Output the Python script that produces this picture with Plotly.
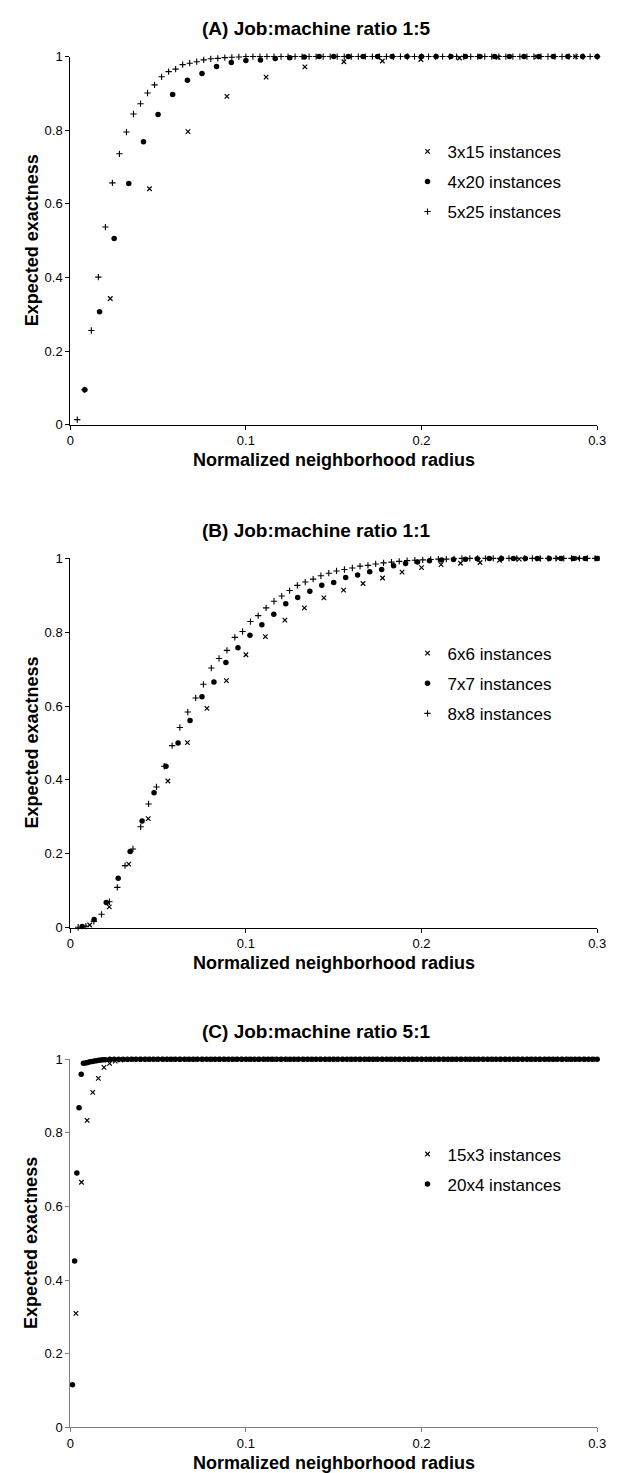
import plotly.graph_objects as go

# ---------------- data ----------------
x_ticks = [0, 0.1, 0.2, 0.3]
x_tick_text = ["0", "0.1", "0.2", "0.3"]
y_ticks = [0, 0.2, 0.4, 0.6, 0.8, 1.0]
y_tick_text = ["0", "0.2", "0.4", "0.6", "0.8", "1"]

titles = ["(A) Job:machine ratio 1:5", "(B) Job:machine ratio 1:1", "(C) Job:machine ratio 5:1"]
x_title = "Normalized neighborhood radius"
y_title = "Expected exactness"

# Panel A
a_3x15_x = [0.0228, 0.0451, 0.0670, 0.0892, 0.1115, 0.1336, 0.1558, 0.1777, 0.1996, 0.2216,
            0.2436, 0.2656, 0.2876]
a_3x15_y = [0.343, 0.641, 0.796, 0.892, 0.944, 0.972, 0.986, 0.988, 0.992, 0.996,
            0.998, 0.999, 1.0]

a_4x20_x = [0.0083, 0.0167, 0.025, 0.0333, 0.0417, 0.05, 0.0583, 0.0667, 0.075, 0.0833,
            0.0917, 0.1, 0.1083, 0.1167, 0.125, 0.1333, 0.1417, 0.15, 0.1583, 0.1667,
            0.175, 0.1833, 0.1917, 0.2, 0.2083, 0.2167, 0.225, 0.2333, 0.2417, 0.25,
            0.2583, 0.2667, 0.275, 0.2833, 0.2917, 0.3]
a_4x20_y = [0.095, 0.307, 0.506, 0.655, 0.769, 0.843, 0.897, 0.936, 0.954, 0.973,
            0.984, 0.989, 0.991, 0.995, 0.997, 0.999, 1.0, 1.0, 1.0, 1.0,
            1.0, 1.0, 1.0, 1.0, 1.0, 1.0, 1.0, 1.0, 1.0, 1.0,
            1.0, 1.0, 1.0, 1.0, 1.0, 1.0]

a_5x25_x = [0.004, 0.008, 0.012, 0.016, 0.02, 0.024, 0.028, 0.032, 0.036, 0.04,
            0.044, 0.048, 0.052, 0.056, 0.06, 0.064, 0.068, 0.072, 0.076, 0.08,
            0.084, 0.088, 0.092, 0.096, 0.1, 0.104, 0.108, 0.112, 0.116, 0.12,
            0.124, 0.128, 0.132, 0.136, 0.14, 0.144, 0.148, 0.152, 0.156, 0.16,
            0.164, 0.168, 0.172, 0.176, 0.18, 0.184, 0.188, 0.192, 0.196, 0.2,
            0.204, 0.208, 0.212, 0.216, 0.22, 0.224, 0.228, 0.232, 0.236, 0.24,
            0.244, 0.248, 0.252, 0.256, 0.26, 0.264, 0.268, 0.272, 0.276, 0.28,
            0.284, 0.288, 0.292, 0.296, 0.3]
a_5x25_y = [0.014, 0.095, 0.256, 0.401, 0.537, 0.657, 0.736, 0.795, 0.844, 0.872,
            0.901, 0.923, 0.945, 0.959, 0.966, 0.978, 0.982, 0.986, 0.991, 0.994,
            0.995, 0.997, 0.998, 0.999, 1.0, 1.0, 1.0, 1.0, 1.0, 1.0,
            1.0, 1.0, 1.0, 1.0, 1.0, 1.0, 1.0, 1.0, 1.0, 1.0,
            1.0, 1.0, 1.0, 1.0, 1.0, 1.0, 1.0, 1.0, 1.0, 1.0,
            1.0, 1.0, 1.0, 1.0, 1.0, 1.0, 1.0, 1.0, 1.0, 1.0,
            1.0, 1.0, 1.0, 1.0, 1.0, 1.0, 1.0, 1.0, 1.0, 1.0,
            1.0, 1.0, 1.0, 1.0, 1.0]

# Panel B
b_6x6_x = [0.0111, 0.0222, 0.0333, 0.0444, 0.0556, 0.0667, 0.0778, 0.0889, 0.1, 0.1111,
           0.1222, 0.1333, 0.1444, 0.1556, 0.1667, 0.1778, 0.1889, 0.2, 0.2111, 0.2222,
           0.2333, 0.2444, 0.2556, 0.2667, 0.2778, 0.2889, 0.3]
b_6x6_y = [0.007, 0.056, 0.172, 0.295, 0.397, 0.501, 0.594, 0.669, 0.739, 0.788,
           0.833, 0.866, 0.893, 0.914, 0.932, 0.947, 0.963, 0.975, 0.983, 0.987,
           0.989, 0.995, 0.998, 0.999, 1.0, 1.0, 1.0]

b_7x7_x = [0.0068, 0.0136, 0.0205, 0.0273, 0.0341, 0.0409, 0.0477, 0.0545, 0.0614, 0.0682,
           0.075, 0.0818, 0.0886, 0.0955, 0.1023, 0.1091, 0.1159, 0.1227, 0.1295, 0.1364,
           0.1432, 0.15, 0.1568, 0.1636, 0.1705, 0.1773, 0.1841, 0.1909, 0.1977, 0.2045,
           0.2114, 0.2182, 0.225, 0.2318, 0.2386, 0.2455, 0.2523, 0.2591, 0.2659, 0.2727,
           0.2795, 0.2864, 0.2932, 0.3]
b_7x7_y = [0.003, 0.022, 0.068, 0.134, 0.206, 0.289, 0.365, 0.437, 0.500, 0.561,
           0.625, 0.665, 0.718, 0.758, 0.792, 0.820, 0.849, 0.877, 0.894, 0.911,
           0.927, 0.935, 0.948, 0.955, 0.964, 0.970, 0.980, 0.986, 0.990, 0.994,
           0.996, 0.997, 0.998, 0.999, 1.0, 1.0, 1.0, 1.0, 1.0, 1.0,
           1.0, 1.0, 1.0, 1.0]

b_8x8_x = [0.0045, 0.0089, 0.0134, 0.0178, 0.0223, 0.0268, 0.0312, 0.0357, 0.0401, 0.0446,
           0.0491, 0.0535, 0.058, 0.0624, 0.0669, 0.0714, 0.0758, 0.0803, 0.0847, 0.0892,
           0.0937, 0.0981, 0.1026, 0.107, 0.1115, 0.116, 0.1204, 0.1249, 0.1293, 0.1338,
           0.1383, 0.1427, 0.1472, 0.1516, 0.1561, 0.1606, 0.165, 0.1695, 0.1739, 0.1784,
           0.1829, 0.1873, 0.1918, 0.1962, 0.2007, 0.2052, 0.2096, 0.2141, 0.2185, 0.223,
           0.2275, 0.2319, 0.2364, 0.2408, 0.2453, 0.2498, 0.2542, 0.2587, 0.2631, 0.2676,
           0.2721, 0.2765, 0.281, 0.2854, 0.2899, 0.2944, 0.2988]
b_8x8_y = [0.001, 0.004, 0.017, 0.036, 0.070, 0.109, 0.168, 0.213, 0.273, 0.335,
           0.381, 0.437, 0.493, 0.542, 0.584, 0.622, 0.659, 0.703, 0.729, 0.751,
           0.786, 0.802, 0.829, 0.845, 0.866, 0.884, 0.898, 0.913, 0.927, 0.936,
           0.944, 0.953, 0.960, 0.966, 0.970, 0.974, 0.979, 0.981, 0.985, 0.988,
           0.990, 0.992, 0.994, 0.995, 0.996, 0.997, 0.998, 0.998, 0.999, 1.0,
           1.0, 1.0, 1.0, 1.0, 1.0, 1.0, 1.0, 1.0, 1.0, 1.0,
           1.0, 1.0, 1.0, 1.0, 1.0, 1.0, 1.0]

# Panel C
c_15x3_x = [0.0032, 0.0064, 0.0096, 0.0128, 0.016, 0.0192, 0.0224, 0.0256, 0.0288, 0.032,
            0.0352, 0.0384, 0.0416, 0.0448, 0.048, 0.0512, 0.0544, 0.0576, 0.0608, 0.064,
            0.0672, 0.0704, 0.0736, 0.0768, 0.08, 0.0832, 0.0864, 0.0896, 0.0928, 0.096,
            0.0992, 0.1024, 0.1056, 0.1088, 0.112, 0.1152, 0.1184, 0.1216, 0.1248, 0.128,
            0.1312, 0.1344, 0.1376, 0.1408, 0.144, 0.1472, 0.1504, 0.1536, 0.1568, 0.16,
            0.1632, 0.1664, 0.1696, 0.1728, 0.176, 0.1792, 0.1824, 0.1856, 0.1888, 0.192,
            0.1952, 0.1984, 0.2016, 0.2048, 0.208, 0.2112, 0.2144, 0.2176, 0.2208, 0.224,
            0.2272, 0.2304, 0.2336, 0.2368, 0.24, 0.2432, 0.2464, 0.2496, 0.2528, 0.256,
            0.2592, 0.2624, 0.2656, 0.2688, 0.272, 0.2752, 0.2784, 0.2816, 0.2848, 0.288,
            0.2912, 0.2944, 0.2976]
c_15x3_y = [0.310, 0.666, 0.834, 0.910, 0.948, 0.978, 0.989, 0.995, 0.998, 0.999,
            1.0, 1.0, 1.0, 1.0, 1.0, 1.0, 1.0, 1.0, 1.0, 1.0,
            1.0, 1.0, 1.0, 1.0, 1.0, 1.0, 1.0, 1.0, 1.0, 1.0,
            1.0, 1.0, 1.0, 1.0, 1.0, 1.0, 1.0, 1.0, 1.0, 1.0,
            1.0, 1.0, 1.0, 1.0, 1.0, 1.0, 1.0, 1.0, 1.0, 1.0,
            1.0, 1.0, 1.0, 1.0, 1.0, 1.0, 1.0, 1.0, 1.0, 1.0,
            1.0, 1.0, 1.0, 1.0, 1.0, 1.0, 1.0, 1.0, 1.0, 1.0,
            1.0, 1.0, 1.0, 1.0, 1.0, 1.0, 1.0, 1.0, 1.0, 1.0,
            1.0, 1.0, 1.0, 1.0, 1.0, 1.0, 1.0, 1.0, 1.0, 1.0,
            1.0, 1.0, 1.0]

c_20x4_x = [0.00125, 0.0025, 0.00375, 0.005, 0.00625, 0.0075, 0.00875, 0.01, 0.01125, 0.0125,
            0.01375, 0.015, 0.01625, 0.0175, 0.01875, 0.02,
            0.0225, 0.025, 0.0275, 0.03, 0.0325, 0.035, 0.0375, 0.04, 0.0425, 0.045,
            0.0475, 0.05, 0.0525, 0.055, 0.0575, 0.06, 0.0625, 0.065, 0.0675, 0.07,
            0.0725, 0.075, 0.0775, 0.08, 0.0825, 0.085, 0.0875, 0.09, 0.0925, 0.095,
            0.0975, 0.1, 0.1025, 0.105, 0.1075, 0.11, 0.1125, 0.115, 0.1175, 0.12,
            0.1225, 0.125, 0.1275, 0.13, 0.1325, 0.135, 0.1375, 0.14, 0.1425, 0.145,
            0.1475, 0.15, 0.1525, 0.155, 0.1575, 0.16, 0.1625, 0.165, 0.1675, 0.17,
            0.1725, 0.175, 0.1775, 0.18, 0.1825, 0.185, 0.1875, 0.19, 0.1925, 0.195,
            0.1975, 0.2, 0.2025, 0.205, 0.2075, 0.21, 0.2125, 0.215, 0.2175, 0.22,
            0.2225, 0.225, 0.2275, 0.23, 0.2325, 0.235, 0.2375, 0.24, 0.2425, 0.245,
            0.2475, 0.25, 0.2525, 0.255, 0.2575, 0.26, 0.2625, 0.265, 0.2675, 0.27,
            0.2725, 0.275, 0.2775, 0.28, 0.2825, 0.285, 0.2875, 0.29, 0.2925, 0.295,
            0.2975, 0.3]
c_20x4_y = [0.116, 0.452, 0.691, 0.868, 0.959, 0.989, 0.990, 0.991, 0.993, 0.994,
            0.995, 0.996, 0.997, 0.998, 0.999, 0.999,
            1.0, 1.0, 1.0, 1.0, 1.0, 1.0, 1.0, 1.0, 1.0, 1.0,
            1.0, 1.0, 1.0, 1.0, 1.0, 1.0, 1.0, 1.0, 1.0, 1.0,
            1.0, 1.0, 1.0, 1.0, 1.0, 1.0, 1.0, 1.0, 1.0, 1.0,
            1.0, 1.0, 1.0, 1.0, 1.0, 1.0, 1.0, 1.0, 1.0, 1.0,
            1.0, 1.0, 1.0, 1.0, 1.0, 1.0, 1.0, 1.0, 1.0, 1.0,
            1.0, 1.0, 1.0, 1.0, 1.0, 1.0, 1.0, 1.0, 1.0, 1.0,
            1.0, 1.0, 1.0, 1.0, 1.0, 1.0, 1.0, 1.0, 1.0, 1.0,
            1.0, 1.0, 1.0, 1.0, 1.0, 1.0, 1.0, 1.0, 1.0, 1.0,
            1.0, 1.0, 1.0, 1.0, 1.0, 1.0, 1.0, 1.0, 1.0, 1.0,
            1.0, 1.0, 1.0, 1.0, 1.0, 1.0, 1.0, 1.0, 1.0, 1.0,
            1.0, 1.0, 1.0, 1.0, 1.0, 1.0, 1.0, 1.0, 1.0, 1.0,
            1.0, 1.0]

# ---------------- layout geometry (pixels) ----------------
W, H = 620, 1473
PLOT_L, PLOT_R = 59.5, 597.7
PANELS = [(42, 414), (549, 922), (1055, 1427)]  # (top, bottom) pixel rows of the plot areas
FONT = "Arial, 'Liberation Sans', sans-serif"


def fy(py):
    return 1 - py / H


def fx(px):
    return px / W


fig = go.Figure()

MK = {
    "x": dict(symbol="x-thin", size=4.5, color="black", line=dict(width=1.2, color="black")),
    "dot": dict(symbol="circle", size=5.5, color="black", line=dict(width=0)),
    "plus": dict(symbol="cross-thin", size=4.5, color="black", line=dict(width=1.1, color="black")),
}

series = [
    (1, "3x15 instances", a_3x15_x, a_3x15_y, "x"),
    (1, "4x20 instances", a_4x20_x, a_4x20_y, "dot"),
    (1, "5x25 instances", a_5x25_x, a_5x25_y, "plus"),
    (2, "6x6 instances", b_6x6_x, b_6x6_y, "x"),
    (2, "7x7 instances", b_7x7_x, b_7x7_y, "dot"),
    (2, "8x8 instances", b_8x8_x, b_8x8_y, "plus"),
    (3, "15x3 instances", c_15x3_x, c_15x3_y, "x"),
    (3, "20x4 instances", c_20x4_x, c_20x4_y, "dot"),
]

for i, (p, name, xs, ys, mk) in enumerate(series):
    sfx = "" if p == 1 else str(p)
    fig.add_trace(go.Scatter(
        x=xs, y=ys, mode="markers", name=name, marker=MK[mk],
        xaxis="x" + sfx, yaxis="y" + sfx, cliponaxis=False,
        legend="legend" + sfx, legendgroup="g%d" % i,
    ))

axis_colors = ["black", "black", "#7f7f7f"]
layout = dict(
    width=W, height=H, margin=dict(l=0, r=0, t=0, b=0),
    paper_bgcolor="white", plot_bgcolor="white",
    font=dict(family=FONT, color="black"),
    showlegend=True,
)
annotations = []
for k, (top, bot) in enumerate(PANELS):
    sfx = "" if k == 0 else str(k + 1)
    col = axis_colors[k]
    common = dict(showline=True, linecolor=col, linewidth=1, ticks="outside", ticklen=4,
                  tickcolor=col, tickwidth=1, showgrid=False, zeroline=False,
                  tickfont=dict(family=FONT, size=13, color="black"), fixedrange=True)
    layout["xaxis" + sfx] = dict(domain=[fx(PLOT_L), fx(PLOT_R)], range=[0, 0.3],
                                 anchor="y" + sfx, tickvals=x_ticks, ticktext=x_tick_text, **common)
    layout["yaxis" + sfx] = dict(domain=[fy(bot), fy(top)], range=[0, 1],
                                 anchor="x" + sfx, tickvals=y_ticks, ticktext=y_tick_text, **common)
    # chart title
    annotations.append(dict(text="<b>%s</b>" % titles[k], x=0.5, y=fy(top - 28), xref="paper", yref="paper",
                            xanchor="center", yanchor="middle", showarrow=False,
                            font=dict(family=FONT, size=19, color="black")))
    # x axis title
    annotations.append(dict(text="<b>%s</b>" % x_title, x=fx((PLOT_L + PLOT_R) / 2), y=fy(bot + 36),
                            xref="paper", yref="paper", xanchor="center", yanchor="middle",
                            showarrow=False, font=dict(family=FONT, size=18, color="black")))
    # y axis title
    annotations.append(dict(text="<b>%s</b>" % y_title, x=fx(20), y=fy((top + bot) / 2),
                            xref="paper", yref="paper", xanchor="center", yanchor="middle",
                            textangle=-90, showarrow=False,
                            font=dict(family=FONT, size=18, color="black")))
    layout["legend" + sfx] = dict(x=fx(404), y=fy(top + 78), xanchor="left", yanchor="top",
                                  bgcolor="rgba(0,0,0,0)", borderwidth=0, tracegroupgap=5,
                                  font=dict(family=FONT, size=17, color="black"),
                                  itemclick=False, itemdoubleclick=False)

layout["annotations"] = annotations
fig.update_layout(**layout)
fig.write_html("out.html")
